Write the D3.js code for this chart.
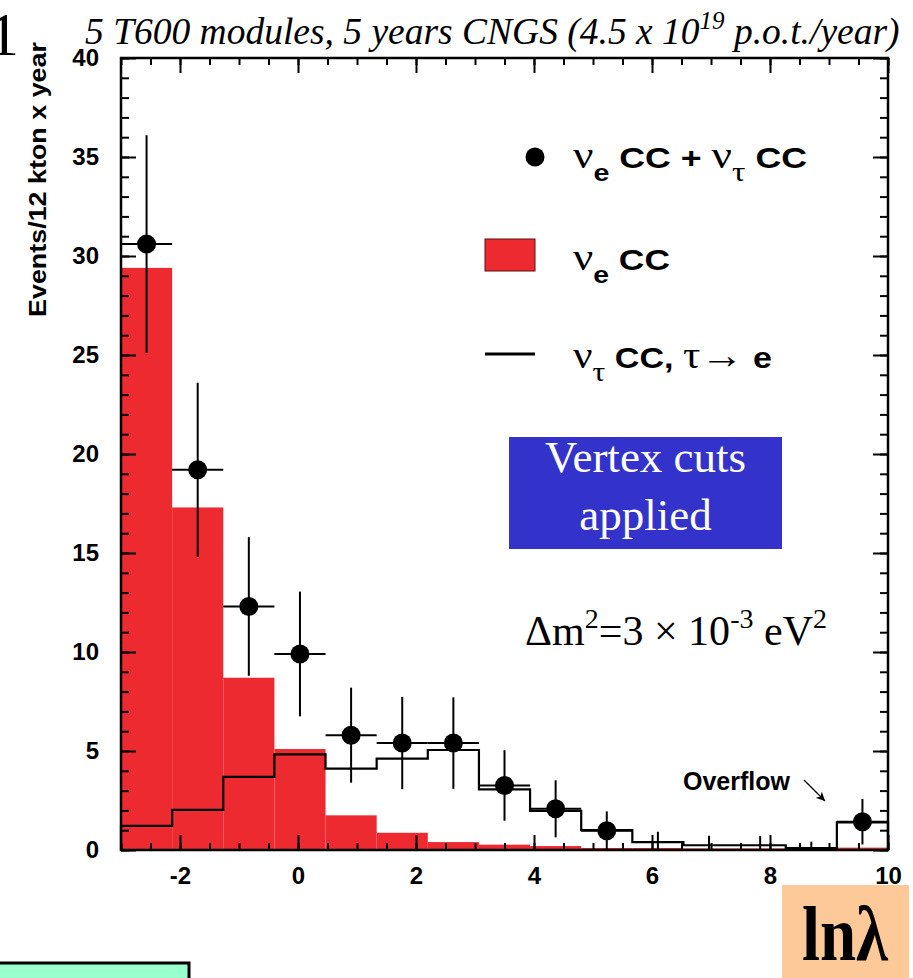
<!DOCTYPE html>
<html>
<head>
<meta charset="utf-8">
<script src="https://cdn.jsdelivr.net/npm/d3@7"></script>
<style>
  body { margin: 0; background: #fff; }
  svg { display: block; }
  .sans { font-family: "Liberation Sans", Arial, Helvetica, sans-serif; font-weight: bold; }
  .serif { font-family: "Liberation Serif", "Times New Roman", Times, serif; }
</style>
</head>
<body>
<svg id="chart" width="913" height="978"></svg>
<script>
// ln(lambda) histogram: 15 bins between -3 and 10 (last bin holds the overflow)
const xDomain = [-3, 10];
const nBins = 15;

// nu_e CC expectation per bin (red filled histogram)
const nueCC = [29.4, 17.3, 8.7, 5.1, 1.75, 0.87, 0.4, 0.27, 0.2, 0.1, 0.1, 0.08, 0.08, 0.03, 0.12];
// nu_tau CC, tau -> e expectation per bin (black outline histogram)
const nutauCC = [1.22, 2.03, 3.69, 4.83, 4.11, 4.61, 5.05, 3.06, 1.98, 1.0, 0.4, 0.24, 0.24, 0.1, 1.4];
// nu_e CC + nu_tau CC events (points) and their statistical errors
const sumEvents = [30.6, 19.2, 12.3, 9.9, 5.8, 5.4, 5.4, 3.26, 2.08, 0.97, 0, 0, 0, 0, 1.43];
const sumErrors = [5.5, 4.4, 3.5, 3.15, 2.4, 2.33, 2.31, 1.78, 1.44, 0.98, 0.92, 0.72, 0.7, 0.42, 1.15];

// axis ticks
const xMajorTicks = [-2, 0, 2, 4, 6, 8, 10];
const xMinorTicks = d3.range(-3, 10.001, 0.5);
const yMajorTicks = [0, 5, 10, 15, 20, 25, 30, 35, 40];
const yMinorTicks = d3.range(0, 40.001, 1);

const svg = d3.select("#chart");
const x = d3.scaleLinear().domain(xDomain).range([121, 888]);
const y = d3.scaleLinear().domain([0, 40]).range([850, 58]);

const binWidth = (xDomain[1] - xDomain[0]) / nBins;
const edges = d3.range(nBins + 1).map(i => xDomain[0] + i * binWidth);
const bins = d3.range(nBins).map(i => ({
  lo: edges[i], hi: edges[i + 1], mid: (edges[i] + edges[i + 1]) / 2,
  nue: nueCC[i], nutau: nutauCC[i], sum: sumEvents[i], err: sumErrors[i]
}));

const red = "#ec2a30";

// red nu_e CC histogram
svg.append("g").selectAll("rect").data(bins).join("rect")
  .attr("x", d => x(d.lo))
  .attr("y", d => y(d.nue))
  .attr("width", d => x(d.hi) - x(d.lo))
  .attr("height", d => y(0) - y(d.nue))
  .attr("fill", red);

// nu_tau histogram outline as a step line
const stepPts = [{ e: edges[0], v: 0 }]
  .concat(bins.map(d => ({ e: d.lo, v: d.nutau })))
  .concat([{ e: edges[nBins], v: nutauCC[nBins - 1] }, { e: edges[nBins], v: 0 }]);
svg.append("path")
  .datum(stepPts)
  .attr("d", d3.line().x(d => x(d.e)).y(d => y(d.v)).curve(d3.curveStepAfter))
  .attr("fill", "none")
  .attr("stroke", "#000")
  .attr("stroke-width", 2.2);

// data points with error bars
const pts = svg.append("g");
pts.selectAll(".ex").data(bins).join("line")
  .attr("x1", d => x(d.lo)).attr("x2", d => x(d.hi))
  .attr("y1", d => y(d.sum)).attr("y2", d => y(d.sum))
  .attr("stroke", "#000").attr("stroke-width", 2);
pts.selectAll(".ey").data(bins).join("line")
  .attr("x1", d => x(d.mid)).attr("x2", d => x(d.mid))
  .attr("y1", d => y(Math.max(0, d.sum - d.err))).attr("y2", d => y(d.sum + d.err))
  .attr("stroke", "#000").attr("stroke-width", 2);
pts.selectAll("circle").data(bins.filter(d => d.sum > 0)).join("circle")
  .attr("cx", d => x(d.mid)).attr("cy", d => y(d.sum))
  .attr("r", 9.5).attr("fill", "#000");

// axes: ticks drawn inside the frame on all four sides
function styleAxis(g) {
  g.select(".domain").remove();
  g.selectAll(".tick line").attr("stroke", "#000").attr("stroke-width", 2);
  g.selectAll(".tick text").attr("fill", "#000");
}
const plain = d => String(d);
const H = 850, T = 58, L = 121, R = 888;
svg.append("g").attr("transform", `translate(0,${H})`).attr("class", "sans")
  .call(d3.axisBottom(x).tickValues(xMajorTicks).tickSize(-15).tickPadding(17).tickFormat(plain))
  .call(styleAxis)
  .selectAll("text").attr("font-size", 24).attr("font-family", null);
svg.append("g").attr("transform", `translate(0,${H})`)
  .call(d3.axisBottom(x).tickValues(xMinorTicks).tickSize(-7).tickFormat(""))
  .call(styleAxis);
svg.append("g").attr("transform", `translate(0,${T})`)
  .call(d3.axisTop(x).tickValues(xMajorTicks).tickSize(-15).tickFormat(""))
  .call(styleAxis);
svg.append("g").attr("transform", `translate(0,${T})`)
  .call(d3.axisTop(x).tickValues(xMinorTicks).tickSize(-7).tickFormat(""))
  .call(styleAxis);
svg.append("g").attr("transform", `translate(${L},0)`).attr("class", "sans")
  .call(d3.axisLeft(y).tickValues(yMajorTicks).tickSize(-15).tickPadding(22).tickFormat(plain))
  .call(styleAxis)
  .selectAll("text").attr("font-size", 24).attr("font-family", null);
svg.append("g").attr("transform", `translate(${L},0)`)
  .call(d3.axisLeft(y).tickValues(yMinorTicks).tickSize(-8).tickFormat(""))
  .call(styleAxis);
svg.append("g").attr("transform", `translate(${R},0)`)
  .call(d3.axisRight(y).tickValues(yMajorTicks).tickSize(-15).tickFormat(""))
  .call(styleAxis);
svg.append("g").attr("transform", `translate(${R},0)`)
  .call(d3.axisRight(y).tickValues(yMinorTicks).tickSize(-8).tickFormat(""))
  .call(styleAxis);

// frame
svg.append("rect").attr("x", L).attr("y", T).attr("width", R - L).attr("height", H - T)
  .attr("fill", "none").attr("stroke", "#000").attr("stroke-width", 2.5);

// y-axis title
svg.append("text").attr("class", "sans")
  .attr("transform", "translate(46,42) rotate(-90)")
  .attr("text-anchor", "end").attr("font-size", 24)
  .attr("textLength", 275).attr("lengthAdjust", "spacingAndGlyphs")
  .text("Events/12 kton x year");

// page number fragment and title
svg.append("text").attr("class", "serif").attr("x", -12).attr("y", 55)
  .attr("font-size", 62).text("1");
const title = svg.append("text").attr("class", "serif").attr("x", 85).attr("y", 44)
  .attr("font-size", 37.5).attr("font-style", "italic");
title.append("tspan").text("5 T600 modules, 5 years CNGS (4.5 x 10");
title.append("tspan").attr("font-size", 25).attr("dy", -15).text("19");
title.append("tspan").attr("dy", 15).text(" p.o.t./year)");

// legend
const greek = "'Liberation Serif', 'Times New Roman', serif";
function legendText(yb, width, parts) {
  const t = svg.append("text").attr("class", "sans").attr("x", 573).attr("y", yb).attr("font-size", 30)
    .attr("textLength", width).attr("lengthAdjust", "spacingAndGlyphs");
  parts.forEach(p => {
    const s = t.append("tspan").text(p.t);
    if (p.g) s.attr("font-family", greek).attr("font-weight", "normal").attr("font-size", p.sub ? 28 : 38);
    if (p.sub) s.attr("dy", 13);
    if (p.sub && !p.g) s.attr("font-size", 24);
    if (p.back) s.attr("dy", -13);
  });
}
svg.append("circle").attr("cx", 535).attr("cy", 157).attr("r", 9.5).attr("fill", "#000");
legendText(168, 234, [
  { t: "ν", g: true }, { t: "e", sub: true }, { t: " CC + ", back: true },
  { t: "ν", g: true }, { t: "τ", g: true, sub: true }, { t: " CC", back: true }
]);
svg.append("rect").attr("x", 485).attr("y", 239).attr("width", 50).attr("height", 32)
  .attr("fill", red).attr("stroke", "#5a1010").attr("stroke-width", 1);
legendText(270, 97, [{ t: "ν", g: true }, { t: "e", sub: true }, { t: " CC", back: true }]);
svg.append("line").attr("x1", 485).attr("x2", 535).attr("y1", 354).attr("y2", 354)
  .attr("stroke", "#000").attr("stroke-width", 3);
legendText(368, 199, [
  { t: "ν", g: true }, { t: "τ", g: true, sub: true }, { t: " CC, ", back: true },
  { t: "τ→", g: true }, { t: " e" }
]);

// cut annotation box
svg.append("rect").attr("x", 509).attr("y", 437).attr("width", 273).attr("height", 112).attr("fill", "#3333cc");
svg.append("text").attr("class", "serif").attr("x", 645.5).attr("y", 472).attr("text-anchor", "middle")
  .attr("font-size", 45).attr("fill", "#fff").text("Vertex cuts");
svg.append("text").attr("class", "serif").attr("x", 645.5).attr("y", 530).attr("text-anchor", "middle")
  .attr("font-size", 45).attr("fill", "#fff").text("applied");

// oscillation parameter
const dm = svg.append("text").attr("class", "serif").attr("x", 525).attr("y", 645).attr("font-size", 42)
  .attr("textLength", 302).attr("lengthAdjust", "spacingAndGlyphs");
dm.append("tspan").text("Δm");
dm.append("tspan").attr("font-size", 28).attr("dy", -17).text("2");
dm.append("tspan").attr("dy", 17).text("=3 × 10");
dm.append("tspan").attr("font-size", 28).attr("dy", -17).text("-3");
dm.append("tspan").attr("dy", 17).text(" eV");
dm.append("tspan").attr("font-size", 28).attr("dy", -17).text("2");

// overflow label and arrow
svg.append("defs").append("marker").attr("id", "ah").attr("viewBox", "0 0 10 10")
  .attr("refX", 10).attr("refY", 5).attr("markerWidth", 9).attr("markerHeight", 9)
  .attr("markerUnits", "userSpaceOnUse").attr("orient", "auto")
  .append("path").attr("d", "M0,0 L10,5 L0,10 L3,5 Z").attr("fill", "#000");
svg.append("text").attr("class", "sans").attr("x", 683).attr("y", 790).attr("font-size", 25).text("Overflow");
svg.append("line").attr("x1", 804).attr("y1", 780).attr("x2", 825).attr("y2", 801)
  .attr("stroke", "#000").attr("stroke-width", 1.2).attr("marker-end", "url(#ah)");

// x-axis variable box
svg.append("rect").attr("x", 782).attr("y", 885).attr("width", 127).attr("height", 93).attr("fill", "#fdc998");
svg.append("text").attr("class", "serif").attr("x", 802).attr("y", 960).attr("font-size", 78)
  .attr("font-weight", "bold").attr("textLength", 86).attr("lengthAdjust", "spacingAndGlyphs").text("lnλ");

// bottom-left box
svg.append("rect").attr("x", -3).attr("y", 963).attr("width", 192).attr("height", 30)
  .attr("fill", "#99ffcc").attr("stroke", "#000").attr("stroke-width", 3);
</script>
</body>
</html>
